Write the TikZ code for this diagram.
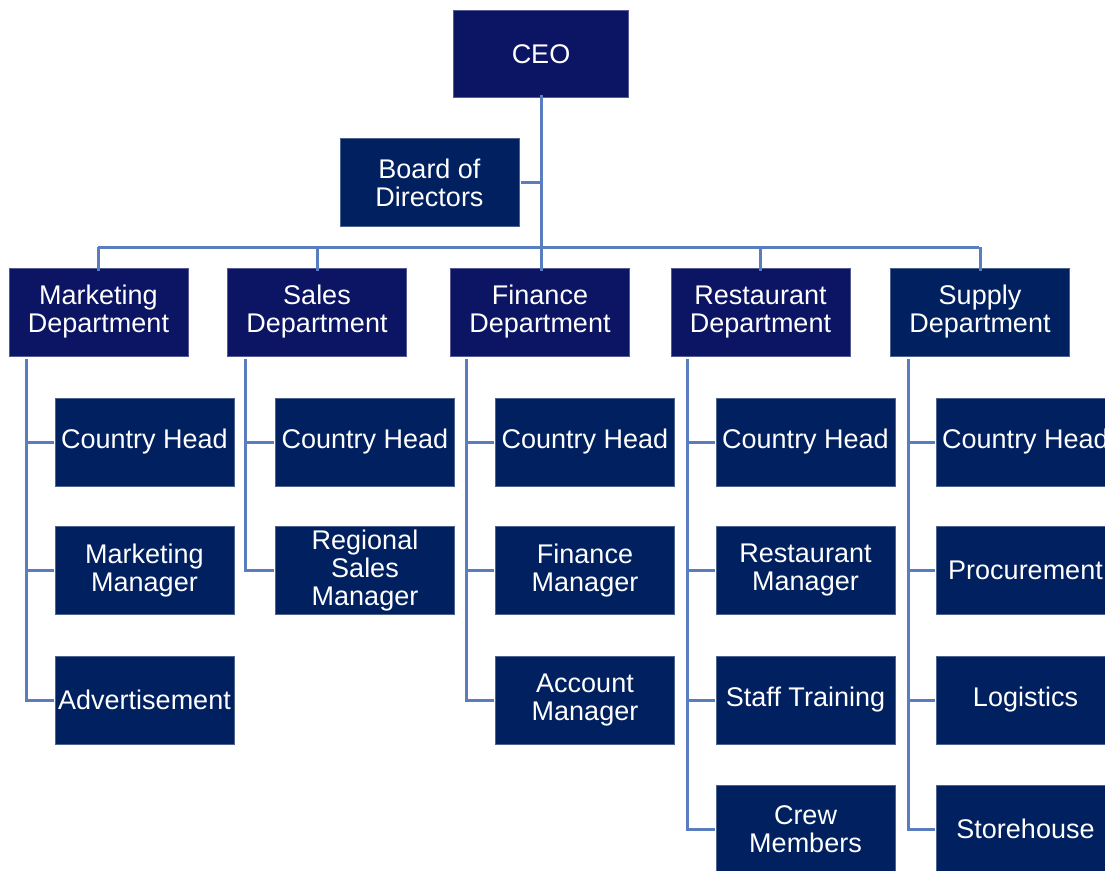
\documentclass[tikz,border=0pt]{standalone}
\usepackage{fontspec}
\setmainfont{Liberation Sans}
\definecolor{violetbox}{HTML}{0C1464}
\definecolor{navybox}{HTML}{002060}
\definecolor{linkblue}{HTML}{5A7DC0}
\begin{document}
\begin{tikzpicture}[x=1pt,y=-1pt,
  box/.style={fill=navybox,draw=navybox!70!white,line width=0.6pt,text=white,minimum width=179pt,minimum height=88pt,inner sep=0pt,align=center,font=\fontsize{27}{28}\selectfont},
  vbox/.style={box,fill=violetbox,draw=violetbox!70!white},
  link/.style={draw=linkblue,line width=3pt}]
\useasboundingbox (0,0) rectangle (1105,870);
\clip (0,0) rectangle (1105,870);
% top
\node[vbox,minimum width=175pt,minimum height=87pt] (ceo) at (541,54) {CEO};
\node[box,minimum height=88pt] (board) at (429.5,182.5) {Board of\\Directors};
% departments
\node[vbox] (mkt) at (98.5,312) {Marketing\\Department};
\node[vbox] (sal) at (317,312) {Sales\\Department};
\node[vbox] (fin) at (540,312) {Finance\\Department};
\node[vbox] (res) at (760.5,312) {Restaurant\\Department};
\node[box] (sup) at (980,312) {Supply\\Department};
% children
\node[box] (m1) at (144.5,442) {Country Head};
\node[box] (m2) at (144.5,570.5) {Marketing\\Manager};
\node[box] (m3) at (144.5,700) {Advertisement};
\node[box] (s1) at (365,442) {Country Head};
\node[box] (s2) at (365,570.5) {Regional\\Sales\\Manager};
\node[box] (f1) at (585,442) {Country Head};
\node[box] (f2) at (585,570.5) {Finance\\Manager};
\node[box] (f3) at (585,700) {Account\\Manager};
\node[box] (r1) at (805.5,442) {Country Head};
\node[box] (r2) at (805.5,570.5) {Restaurant\\Manager};
\node[box] (r3) at (805.5,700) {Staff Training};
\node[box] (r4) at (805.5,829) {Crew\\Members};
\node[box] (p1) at (1025.5,442) {Country Head};
\node[box] (p2) at (1025.5,570.5) {Procurement};
\node[box] (p3) at (1025.5,700) {Logistics};
\node[box] (p4) at (1025.5,829) {Storehouse};
% bus coordinates
\coordinate (busL) at (98,247);
\coordinate (busR) at (979,247);
\coordinate (trunk) at (541,247);
% connectors
\draw[link] ([yshift=3pt]ceo.south) -- ([yshift=-3pt]fin.north -| ceo.south);
\draw[link] ([xshift=2pt]board.east) -- (board.east -| ceo.south);
\draw[link] (busL) -- (busR);
\foreach \d in {mkt,sal,res,sup}{
  \draw[link] (\d.north |- busL) -- ([yshift=-3pt]\d.north);
}
% child trees
\foreach \d/\x/\last/\kids in {mkt/26/m3/{m1,m2,m3},sal/245/s2/{s1,s2},fin/466/f3/{f1,f2,f3},res/687/r4/{r1,r2,r3,r4},sup/908/p4/{p1,p2,p3,p4}}{
  \draw[link] ([yshift=-3pt]\d.south -| \x,0) -- (\last.west -| \x,0) -- ([xshift=-1pt]\last.west);
  \foreach \k in \kids {
    \draw[link] (\k.west -| \x,0) -- ([xshift=-1pt]\k.west);
  }
}
\end{tikzpicture}
\end{document}
